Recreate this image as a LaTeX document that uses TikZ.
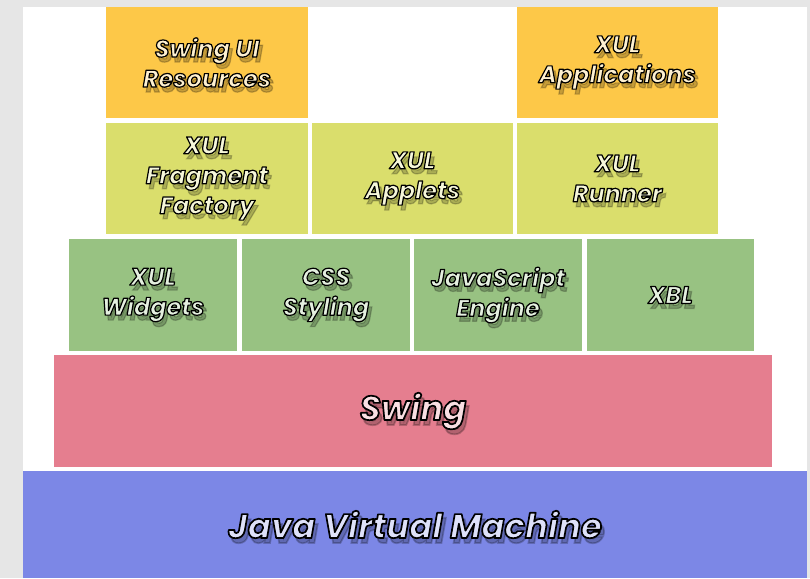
\documentclass[tikz,border=0pt]{standalone}
\usepackage{fontspec}
\newfontfamily\labfont{Poppins}[FakeBold=5]
\definecolor{cOr}{RGB}{253,200,72}
\definecolor{cYe}{RGB}{218,222,108}
\definecolor{cGr}{RGB}{152,194,130}
\definecolor{cPk}{RGB}{229,126,143}
\definecolor{cBl}{RGB}{124,135,230}
\definecolor{cBg}{RGB}{230,230,230}
\tikzset{
  blk/.style={rectangle, inner sep=0pt, outer sep=0pt, anchor=north west, draw=none},
  lab/.style={align=center, inner sep=0pt, font=\labfont\bfseries\itshape\fontsize{24}{30}\selectfont},
  biglab/.style={align=center, inner sep=0pt, font=\labfont\bfseries\itshape\fontsize{34}{40}\selectfont}
}
% #1 style, #2 node name, #3 text, #4 fill colour of the letters
\newcommand\olab[4][lab]{%
  \node[#1, text=black, opacity=0.22] at ([shift={(3pt,-5pt)}]#2.center) {#3};
  \node[#1, text=#4] at (#2.center) {\special{pdf:literal direct 0 0 0 RG 1 j}#3};
}
\begin{document}
\begin{tikzpicture}[x=1pt,y=-1pt]
  \useasboundingbox (0,0) rectangle (810,578);
  \fill[cBg] (0,0) rectangle (810,578);
  \fill[white] (23,7) rectangle (807,578);

  \node[blk, fill=cOr, minimum width=202pt, minimum height=111pt] (sur) at (106,7) {};
  \node[blk, fill=cOr, minimum width=201pt, minimum height=111pt] (xapp) at (517,7) {};

  \node[blk, fill=cYe, minimum width=202pt, minimum height=111pt] (frag) at (106,123) {};
  \node[blk, fill=cYe, minimum width=201pt, minimum height=111pt] (applets) at (312,123) {};
  \node[blk, fill=cYe, minimum width=201pt, minimum height=111pt] (runner) at (517,123) {};

  \node[blk, fill=cGr, minimum width=168pt, minimum height=112pt] (widgets) at (69,239) {};
  \node[blk, fill=cGr, minimum width=168pt, minimum height=112pt] (css) at (242,239) {};
  \node[blk, fill=cGr, minimum width=168pt, minimum height=112pt] (js) at (414,239) {};
  \node[blk, fill=cGr, minimum width=167pt, minimum height=112pt] (xbl) at (587,239) {};

  \node[blk, fill=cPk, minimum width=718pt, minimum height=112pt] (swing) at (54,355) {};
  \node[blk, fill=cBl, minimum width=784pt, minimum height=107pt] (jvm) at (23,471) {};

  \olab{sur}{Swing UI\\Resources}{cOr!25!white}
  \olab{xapp}{XUL\\Applications}{cOr!25!white}
  \olab{frag}{XUL\\Fragment\\Factory}{cYe!25!white}
  \olab{applets}{XUL\\Applets}{cYe!25!white}
  \olab{runner}{XUL\\Runner}{cYe!25!white}
  \olab{widgets}{XUL\\Widgets}{cGr!25!white}
  \olab{css}{CSS\\Styling}{cGr!25!white}
  \olab{js}{JavaScript\\Engine}{cGr!25!white}
  \olab{xbl}{XBL}{cGr!25!white}
  \olab[biglab]{swing}{Swing}{cPk!25!white}
  \olab[biglab]{jvm}{Java Virtual Machine}{cBl!25!white}
\end{tikzpicture}
\end{document}
